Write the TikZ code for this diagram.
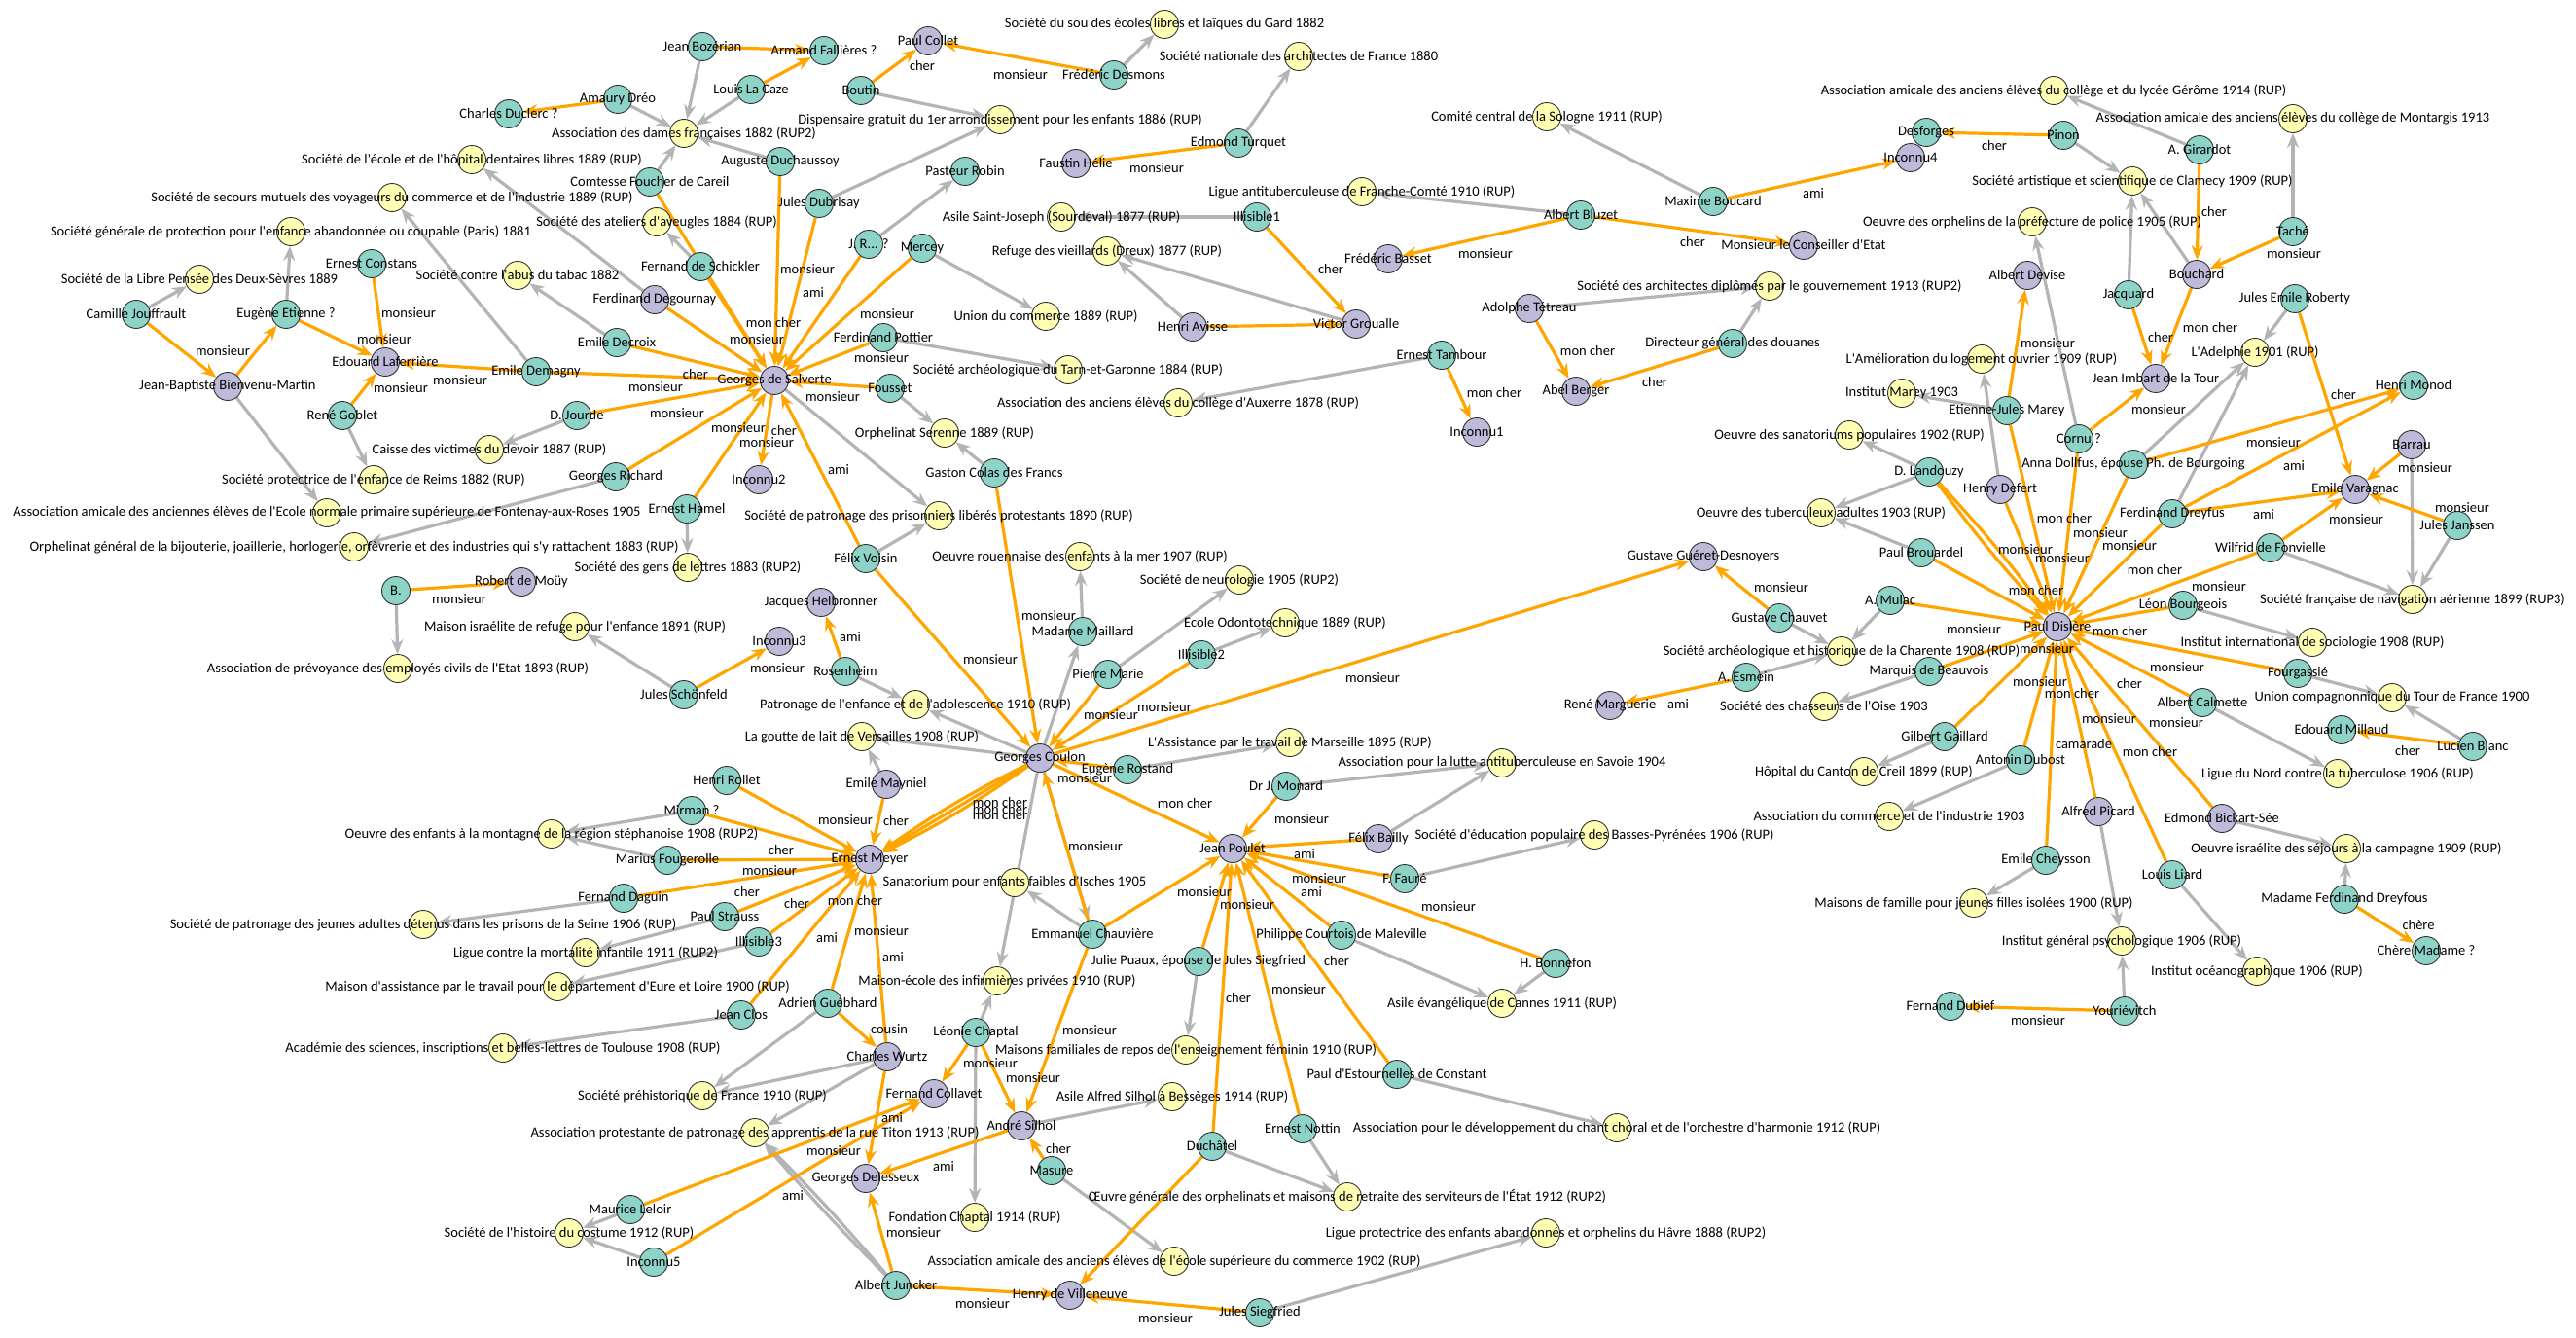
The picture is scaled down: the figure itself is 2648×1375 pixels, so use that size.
\documentclass[tikz,border=0pt]{standalone}
\usepackage{fontspec}
\newfontfamily\labfont{Carlito}
\usetikzlibrary{arrows.meta}
\pgfdeclarelayer{bg}
\pgfdeclarelayer{fg}
\pgfsetlayers{bg,main,fg}
\definecolor{cteal}{HTML}{8DD3C7}
\definecolor{cpurp}{HTML}{BEBADA}
\definecolor{cyel}{HTML}{FFFFB3}
\definecolor{corange}{HTML}{FFA500}
\definecolor{cgray}{HTML}{B4B4B4}
\tikzset{
 person/.style={circle, draw=black!80, line width=0.9pt, minimum size=29pt, inner sep=0pt},
 nteal/.style={person, fill=cteal},
 npurp/.style={person, fill=cpurp},
 nyel/.style={person, fill=cyel},
 txt/.style={font=\labfont\fontsize{14.5}{16}\selectfont, inner sep=0pt, text=black},
 elab/.style={txt},
 oe/.style={draw=corange, line width=3.2pt, -{Stealth[length=15pt,width=12pt,inset=5pt]}},
 ge/.style={draw=cgray, line width=3.2pt, -{Stealth[length=15pt,width=12pt,inset=5pt]}},
}
\newcommand\NN[5]{\node[#2] (#1) at (#3,#4) {};\begin{pgfonlayer}{fg}\node[txt] at (#1.center) {#5};\end{pgfonlayer}}
\newcommand\EO[2]{\draw[oe] (#1) -- (#2);}
\newcommand\EG[2]{\draw[ge] (#1) -- (#2);}
\newcommand\EL[3]{\node[elab] at (#1,#2) {#3};}
\begin{document}
\begin{tikzpicture}[x=1pt,y=-1pt]
\begin{pgfonlayer}{bg}
\fill[white] (0,0) rectangle (2648,1375);
\end{pgfonlayer}
\useasboundingbox (0,0) rectangle (2648,1375);
% ---------- nodes ----------
\NN{cjouf}{nteal}{140}{323}{Camille Jouffrault}
\NN{libre}{nyel}{205}{287}{Société de la Libre Pensée des Deux-Sèvres 1889}
\NN{eetienne}{nteal}{294}{323}{Eugène Etienne ?}
\NN{sgenprot}{nyel}{299}{238}{Société générale de protection pour l'enfance abandonnée ou coupable (Paris) 1881}
\NN{jbbm}{npurp}{234}{397}{Jean-Baptiste Bienvenu-Martin}
\NN{econst}{nteal}{382}{271}{Ernest Constans}
\NN{elaf}{npurp}{396}{372}{Edouard Laferrière}
\NN{rgoblet}{nteal}{352}{427}{René Goblet}
\NN{edemagny}{nteal}{551}{382}{Emile Demagny}
\NN{djourde}{nteal}{593}{427}{D. Jourde}
\NN{caisse}{nyel}{503}{462}{Caisse des victimes du devoir 1887 (RUP)}
\NN{sprotreims}{nyel}{384}{493}{Société protectrice de l'enfance de Reims 1882 (RUP)}
\NN{aamicfont}{nyel}{336}{527}{Association amicale des anciennes élèves de l'Ecole normale primaire supérieure de Fontenay-aux-Roses 1905}
\NN{orphbij}{nyel}{364}{562}{Orphelinat général de la bijouterie, joaillerie, horlogerie, orfèvrerie et des industries qui s'y rattachent 1883 (RUP)}
\NN{grichard}{nteal}{633}{490}{Georges Richard}
\NN{bnode}{nteal}{407}{607}{B.}
\NN{rmouy}{npurp}{536}{598}{Robert de Moüy}
\NN{maisonisr}{nyel}{591}{644}{Maison israélite de refuge pour l'enfance 1891 (RUP)}
\NN{aprev}{nyel}{409}{687}{Association de prévoyance des employés civils de l'Etat 1893 (RUP)}
\NN{jschon}{nteal}{703}{714}{Jules Schönfeld}
\NN{inconnu3}{npurp}{801}{659}{Inconnu3}
\NN{cduclerc}{nteal}{523}{117}{Charles Duclerc ?}
\NN{adreo}{nteal}{635}{102}{Amaury Dréo}
\NN{secoledent}{nyel}{485}{164}{Société de l'école et de l'hôpital dentaires libres 1889 (RUP)}
\NN{ssecours}{nyel}{403}{203}{Société de secours mutuels des voyageurs du commerce et de l'industrie 1889 (RUP)}
\NN{scontabus}{nyel}{532}{283}{Société contre l'abus du tabac 1882}
\NN{edecroix}{nteal}{634}{352}{Emile Decroix}
\NN{fdegournay}{npurp}{673}{308}{Ferdinand Degournay}
\NN{comtesse}{nteal}{668}{187}{Comtesse Foucher de Careil}
\NN{saveugles}{nyel}{675}{228}{Société des ateliers d'aveugles 1884 (RUP)}
\NN{fschickler}{nteal}{720}{274}{Fernand de Schickler}
\NN{adames}{nyel}{703}{137}{Association des dames françaises 1882 (RUP2)}
\NN{jbozerian}{nteal}{722}{48}{Jean Bozérian}
\NN{afallieres}{nteal}{847}{52}{Armand Fallières ?}
\NN{lcaze}{nteal}{772}{92}{Louis La Caze}
\NN{aduchaussoy}{nteal}{802}{166}{Auguste Duchaussoy}
\NN{jdubrisay}{nteal}{842}{209}{Jules Dubrisay}
\NN{pcollet}{npurp}{954}{42}{Paul Collet}
\NN{boutin}{nteal}{885}{93}{Boutin}
\NN{ssou}{nyel}{1197}{25}{Société du sou des écoles libres et laïques du Gard 1882}
\NN{fdesmons}{nteal}{1145}{77}{Frédéric Desmons}
\NN{snatarch}{nyel}{1335}{58}{Société nationale des architectes de France 1880}
\NN{dispens}{nyel}{1028}{123}{Dispensaire gratuit du 1er arrondissement pour les enfants 1886 (RUP)}
\NN{eturquet}{nteal}{1273}{147}{Edmond Turquet}
\NN{fhelie}{npurp}{1106}{168}{Faustin Hélie}
\NN{probin}{nteal}{992}{176}{Pasteur Robin}
\NN{jr}{nteal}{893}{251}{J. R... ?}
\NN{mercey}{nteal}{948}{255}{Mercey}
\NN{asilesj}{nyel}{1091}{223}{Asile Saint-Joseph (Sourdeval) 1877 (RUP)}
\NN{illis1}{nteal}{1292}{223}{Illisible1}
\NN{ligueFC}{nyel}{1400}{197}{Ligue antituberculeuse de Franche-Comté 1910 (RUP)}
\NN{refuge}{nyel}{1138}{258}{Refuge des vieillards (Dreux) 1877 (RUP)}
\NN{union}{nyel}{1075}{325}{Union du commerce 1889 (RUP)}
\NN{havisse}{npurp}{1226}{336}{Henri Avisse}
\NN{fpottier}{nteal}{908}{347}{Ferdinand Pottier}
\NN{tarn}{nyel}{1098}{380}{Société archéologique du Tarn-et-Garonne 1884 (RUP)}
\NN{salverte}{npurp}{796}{391}{Georges de Salverte}
\NN{fousset}{nteal}{915}{399}{Fousset}
\NN{auxerre}{nyel}{1211}{414}{Association des anciens élèves du collège d'Auxerre 1878 (RUP)}
\NN{serenne}{nyel}{971}{445}{Orphelinat Serenne 1889 (RUP)}
\NN{vgroualle}{npurp}{1394}{333}{Victor Groualle}
\NN{etambour}{nteal}{1482}{365}{Ernest Tambour}
\NN{inconnu1}{npurp}{1518}{444}{Inconnu1}
\NN{sologne}{nyel}{1590}{120}{Comité central de la Sologne 1911 (RUP)}
\NN{mboucard}{nteal}{1761}{207}{Maxime Boucard}
\NN{abluzet}{nteal}{1625}{221}{Albert Bluzet}
\NN{fbasset}{npurp}{1427}{266}{Frédéric Basset}
\NN{conseiller}{npurp}{1854}{252}{Monsieur le Conseiller d'Etat}
\NN{sarchdipl}{nyel}{1819}{294}{Société des architectes diplômés par le gouvernement 1913 (RUP2)}
\NN{atetreau}{npurp}{1572}{317}{Adolphe Tétreau}
\NN{dirdouanes}{nteal}{1781}{353}{Directeur général des douanes}
\NN{aberger}{npurp}{1620}{402}{Abel Berger}
\NN{inconnu4}{npurp}{1964}{162}{Inconnu4}
\NN{desforges}{nteal}{1980}{136}{Desforges}
\NN{agerome}{nyel}{2111}{93}{Association amicale des anciens élèves du collège et du lycée Gérôme 1914 (RUP)}
\NN{pinon}{nteal}{2121}{139}{Pinon}
\NN{montargis}{nyel}{2357}{122}{Association amicale des anciens élèves du collège de Montargis 1913}
\NN{agirardot}{nteal}{2261}{154}{A. Girardot}
\NN{clamecy}{nyel}{2192}{186}{Société artistique et scientifique de Clamecy 1909 (RUP)}
\NN{orphpol}{nyel}{2089}{228}{Oeuvre des orphelins de la préfecture de police 1905 (RUP)}
\NN{tache}{nteal}{2357}{238}{Taché}
\NN{bouchard}{npurp}{2258}{282}{Bouchard}
\NN{adevise}{npurp}{2084}{283}{Albert Devise}
\NN{jacquard}{nteal}{2188}{303}{Jacquard}
\NN{jroberty}{nteal}{2359}{307}{Jules Emile Roberty}
\NN{adelphie}{nyel}{2318}{362}{L'Adelphie 1901 (RUP)}
\NN{amelior}{nyel}{2037}{369}{L'Amélioration du logement ouvrier 1909 (RUP)}
\NN{jimbart}{npurp}{2216}{389}{Jean Imbart de la Tour}
\NN{hmonod}{nteal}{2481}{396}{Henri Monod}
\NN{imarey}{nyel}{1955}{404}{Institut Marey 1903}
\NN{ejmarey}{nteal}{2063}{422}{Etienne-Jules Marey}
\NN{sanatpop}{nyel}{1901}{447}{Oeuvre des sanatoriums populaires 1902 (RUP)}
\NN{cornu}{nteal}{2137}{451}{Cornu ?}
\NN{barrau}{npurp}{2479}{457}{Barrau}
\NN{adollfus}{nteal}{2193}{477}{Anna Dollfus, épouse Ph. de Bourgoing}
\NN{landouzy}{nteal}{1983}{485}{D. Landouzy}
\NN{hdefert}{npurp}{2056}{503}{Henry Defert}
\NN{varagnac}{npurp}{2421}{503}{Emile Varagnac}
\NN{fdreyfus}{nteal}{2233}{528}{Ferdinand Dreyfus}
\NN{tubadult}{nyel}{1872}{527}{Oeuvre des tuberculeux adultes 1903 (RUP)}
\NN{jjanssen}{nteal}{2526}{540}{Jules Janssen}
\NN{wfonvielle}{nteal}{2334}{563}{Wilfrid de Fonvielle}
\NN{brouardel}{nteal}{1975}{568}{Paul Brouardel}
\NN{guerets}{npurp}{1751}{572}{Gustave Guéret-Desnoyers}
\NN{sfna}{nyel}{2480}{616}{Société française de navigation aérienne 1899 (RUP3)}
\NN{mulac}{nteal}{1943}{617}{A. Mulac}
\NN{lbourgeois}{nteal}{2244}{622}{Léon Bourgeois}
\NN{chauvet}{nteal}{1829}{635}{Gustave Chauvet}
\NN{dislere}{npurp}{2115}{644}{Paul Dislère}
\NN{iisoc}{nyel}{2377}{660}{Institut international de sociologie 1908 (RUP)}
\NN{charente}{nyel}{1893}{669}{Société archéologique et historique de la Charente 1908 (RUP)}
\NN{beauvois}{nteal}{1983}{690}{Marquis de Beauvois}
\NN{fourgassie}{nteal}{2362}{692}{Fourgassié}
\NN{esmein}{nteal}{1795}{696}{A. Esmein}
\NN{tourfr}{nyel}{2459}{717}{Union compagnonnique du Tour de France 1900}
\NN{calmette}{nteal}{2264}{722}{Albert Calmette}
\NN{marguerie}{npurp}{1655}{725}{René Marguerie}
\NN{chasseurs}{nyel}{1875}{726}{Société des chasseurs de l'Oise 1903}
\NN{millaud}{nteal}{2407}{750}{Edouard Millaud}
\NN{gaillard}{nteal}{1999}{757}{Gilbert Gaillard}
\NN{lblanc}{nteal}{2542}{767}{Lucien Blanc}
\NN{dubost}{nteal}{2077}{781}{Antonin Dubost}
\NN{creil}{nyel}{1916}{793}{Hôpital du Canton de Creil 1899 (RUP)}
\NN{liguenord}{nyel}{2403}{795}{Ligue du Nord contre la tuberculose 1906 (RUP)}
\NN{picard}{npurp}{2157}{834}{Alfred Picard}
\NN{asscomm}{nyel}{1942}{839}{Association du commerce et de l'industrie 1903}
\NN{bickart}{npurp}{2284}{841}{Edmond Bickart-Sée}
\NN{oisr}{nyel}{2412}{872}{Oeuvre israélite des séjours à la campagne 1909 (RUP)}
\NN{cheysson}{nteal}{2103}{884}{Emile Cheysson}
\NN{liard}{nteal}{2233}{899}{Louis Liard}
\NN{mfdreyfous}{nteal}{2410}{924}{Madame Ferdinand Dreyfous}
\NN{maisfam}{nyel}{2029}{928}{Maisons de famille pour jeunes filles isolées 1900 (RUP)}
\NN{igpsy}{nyel}{2181}{967}{Institut général psychologique 1906 (RUP)}
\NN{cheremad}{nteal}{2494}{977}{Chère Madame ?}
\NN{ioceano}{nyel}{2320}{998}{Institut océanographique 1906 (RUP)}
\NN{fdubief}{nteal}{2005}{1034}{Fernand Dubief}
\NN{yourievitch}{nteal}{2184}{1039}{Youriévitch}
\NN{inconnu2}{npurp}{780}{493}{Inconnu2}
\NN{gcolas}{nteal}{1022}{486}{Gaston Colas des Francs}
\NN{ehamel}{nteal}{706}{523}{Ernest Hamel}
\NN{sprison}{nyel}{965}{530}{Société de patronage des prisonniers libérés protestants 1890 (RUP)}
\NN{fvoisin}{nteal}{890}{574}{Félix Voisin}
\NN{orouen}{nyel}{1110}{572}{Oeuvre rouennaise des enfants à la mer 1907 (RUP)}
\NN{gensdl}{nyel}{707}{583}{Société des gens de lettres 1883 (RUP2)}
\NN{sneuro}{nyel}{1274}{596}{Société de neurologie 1905 (RUP2)}
\NN{jhelbronner}{npurp}{844}{619}{Jacques Helbronner}
\NN{odonto}{nyel}{1321}{640}{Ecole Odontotechnique 1889 (RUP)}
\NN{mmaillard}{nteal}{1113}{649}{Madame Maillard}
\NN{illis2}{nteal}{1235}{673}{Illisible2}
\NN{rosenheim}{nteal}{869}{690}{Rosenheim}
\NN{pmarie}{nteal}{1139}{693}{Pierre Marie}
\NN{patronage}{nyel}{941}{724}{Patronage de l'enfance et de l'adolescence 1910 (RUP)}
\NN{goutte}{nyel}{886}{757}{La goutte de lait de Versailles 1908 (RUP)}
\NN{assistance}{nyel}{1326}{763}{L'Assistance par le travail de Marseille 1895 (RUP)}
\NN{coulon}{npurp}{1069}{779}{Georges Coulon}
\NN{rostand}{nteal}{1159}{791}{Eugène Rostand}
\NN{savoie}{nyel}{1544}{784}{Association pour la lutte antituberculeuse en Savoie 1904}
\NN{hrollet}{nteal}{747}{802}{Henri Rollet}
\NN{mayniel}{npurp}{911}{806}{Emile Mayniel}
\NN{monard}{nteal}{1322}{808}{Dr J. Monard}
\NN{mirman}{nteal}{711}{833}{Mirman ?}
\NN{enfmont}{nyel}{567}{857}{Oeuvre des enfants à la montagne de la région stéphanoise 1908 (RUP2)}
\NN{fbailly}{npurp}{1417}{862}{Félix Bailly}
\NN{educpop}{nyel}{1639}{858}{Société d'éducation populaire des Basses-Pyrénées 1906 (RUP)}
\NN{poulet}{npurp}{1267}{872}{Jean Poulet}
\NN{emeyer}{npurp}{894}{883}{Ernest Meyer}
\NN{fougerolle}{nteal}{686}{884}{Marius Fougerolle}
\NN{ffaure}{nteal}{1444}{903}{F. Fauré}
\NN{sanatisches}{nyel}{1043}{907}{Sanatorium pour enfants faibles d'Isches 1905}
\NN{daguin}{nteal}{641}{923}{Fernand Daguin}
\NN{jeunesad}{nyel}{435}{950}{Société de patronage des jeunes adultes détenus dans les prisons de la Seine 1906 (RUP)}
\NN{pstrauss}{nteal}{745}{942}{Paul Strauss}
\NN{chauviere}{nteal}{1123}{960}{Emmanuel Chauvière}
\NN{courtois}{nteal}{1379}{961}{Philippe Courtois de Maleville}
\NN{lmortal}{nyel}{602}{979}{Ligue contre la mortalité infantile 1911 (RUP2)}
\NN{illis3}{nteal}{780}{968}{Illisible3}
\NN{puaux}{nteal}{1232}{988}{Julie Puaux, épouse de Jules Siegfried}
\NN{bonnefon}{nteal}{1599}{990}{H. Bonnefon}
\NN{maisecole}{nyel}{1025}{1008}{Maison-école des infirmières privées 1910 (RUP)}
\NN{maisassist}{nyel}{573}{1014}{Maison d'assistance par le travail pour le département d'Eure et Loire 1900 (RUP)}
\NN{asileevang}{nyel}{1544}{1031}{Asile évangélique de Cannes 1911 (RUP)}
\NN{guebhard}{nteal}{851}{1031}{Adrien Guébhard}
\NN{jclos}{nteal}{762}{1043}{Jean Clos}
\NN{chaptal}{nteal}{1003}{1061}{Léonie Chaptal}
\NN{academie}{nyel}{517}{1077}{Académie des sciences, inscriptions et belles-lettres de Toulouse 1908 (RUP)}
\NN{maisfamrep}{nyel}{1219}{1079}{Maisons familiales de repos de l'enseignement féminin 1910 (RUP)}
\NN{wurtz}{npurp}{912}{1086}{Charles Wurtz}
\NN{estournelles}{nteal}{1436}{1104}{Paul d'Estournelles de Constant}
\NN{collavet}{npurp}{960}{1124}{Fernand Collavet}
\NN{prehist}{nyel}{722}{1126}{Société préhistorique de France 1910 (RUP)}
\NN{besseges}{nyel}{1205}{1127}{Asile Alfred Silhol à Bessèges 1914 (RUP)}
\NN{silhol}{npurp}{1050}{1157}{André Silhol}
\NN{chantchoral}{nyel}{1662}{1159}{Association pour le développement du chant choral et de l'orchestre d'harmonie 1912 (RUP)}
\NN{nottin}{nteal}{1339}{1160}{Ernest Nottin}
\NN{apprentis}{nyel}{776}{1164}{Association protestante de patronage des apprentis de la rue Titon 1913 (RUP)}
\NN{duchatel}{nteal}{1246}{1178}{Duchâtel}
\NN{masure}{nteal}{1081}{1203}{Masure}
\NN{delesseux}{npurp}{890}{1211}{Georges Delesseux}
\NN{oeuvregen}{nyel}{1385}{1230}{Œuvre générale des orphelinats et maisons de retraite des serviteurs de l'État 1912 (RUP2)}
\NN{leloir}{nteal}{648}{1243}{Maurice Leloir}
\NN{fchaptal}{nyel}{1002}{1251}{Fondation Chaptal 1914 (RUP)}
\NN{costume}{nyel}{585}{1267}{Société de l'histoire du costume 1912 (RUP)}
\NN{liguehavre}{nyel}{1589}{1267}{Ligue protectrice des enfants abandonnés et orphelins du Hâvre 1888 (RUP2)}
\NN{aaesc}{nyel}{1207}{1296}{Association amicale des anciens élèves de l'école supérieure du commerce 1902 (RUP)}
\NN{inconnu5}{nteal}{672}{1297}{Inconnu5}
\NN{juncker}{nteal}{921}{1321}{Albert Juncker}
\NN{villeneuve}{npurp}{1100}{1331}{Henry de Villeneuve}
\NN{jsiegfried}{nteal}{1295}{1349}{Jules Siegfried}
% ---------- edges ----------
\begin{pgfonlayer}{bg}
% gray
\EG{cjouf}{libre}\EG{eetienne}{sgenprot}\EG{edecroix}{scontabus}\EG{edemagny}{ssecours}
\EG{fdegournay}{secoledent}\EG{djourde}{caisse}\EG{rgoblet}{sprotreims}\EG{jbbm}{aamicfont}
\EG{grichard}{orphbij}\EG{bnode}{aprev}\EG{jschon}{maisonisr}\EG{adreo}{adames}
\EG{jbozerian}{adames}\EG{lcaze}{adames}\EG{comtesse}{adames}\EG{aduchaussoy}{adames}
\EG{fschickler}{saveugles}\EG{fdesmons}{ssou}\EG{boutin}{dispens}\EG{jdubrisay}{dispens}
\EG{eturquet}{snatarch}\EG{jr}{probin}\EG{illis1}{asilesj}\EG{mercey}{union}
\EG{havisse}{refuge}\EG{vgroualle}{refuge}\EG{fpottier}{tarn}\EG{fousset}{serenne}
\EG{etambour}{auxerre}\EG{salverte}{sprison}\EG{fvoisin}{sprison}\EG{gcolas}{serenne}
\EG{ehamel}{gensdl}\EG{mboucard}{sologne}\EG{abluzet}{ligueFC}\EG{atetreau}{sarchdipl}
\EG{dirdouanes}{sarchdipl}\EG{agirardot}{agerome}\EG{pinon}{clamecy}\EG{tache}{montargis}
\EG{bouchard}{clamecy}\EG{jacquard}{clamecy}\EG{cornu}{orphpol}\EG{jroberty}{adelphie}
\EG{adollfus}{adelphie}\EG{fdreyfus}{adelphie}\EG{hdefert}{amelior}\EG{ejmarey}{imarey}
\EG{landouzy}{sanatpop}\EG{landouzy}{tubadult}\EG{brouardel}{tubadult}\EG{barrau}{sfna}
\EG{jjanssen}{sfna}\EG{wfonvielle}{sfna}\EG{lbourgeois}{iisoc}\EG{fourgassie}{tourfr}
\EG{lblanc}{tourfr}\EG{calmette}{liguenord}\EG{bickart}{oisr}\EG{mfdreyfous}{oisr}
\EG{cheysson}{maisfam}\EG{picard}{igpsy}\EG{yourievitch}{igpsy}\EG{liard}{ioceano}
\EG{chauvet}{charente}\EG{mulac}{charente}\EG{esmein}{charente}\EG{beauvois}{chasseurs}
\EG{gaillard}{creil}\EG{dubost}{asscomm}\EG{monard}{savoie}\EG{fbailly}{savoie}
\EG{ffaure}{educpop}\EG{courtois}{asileevang}\EG{bonnefon}{asileevang}\EG{estournelles}{chantchoral}
\EG{nottin}{oeuvregen}\EG{duchatel}{oeuvregen}\EG{jsiegfried}{liguehavre}\EG{masure}{aaesc}
\EG{mmaillard}{orouen}\EG{coulon}{mmaillard}\EG{pmarie}{sneuro}\EG{illis2}{odonto}
\EG{rosenheim}{patronage}\EG{coulon}{patronage}\EG{coulon}{goutte}\EG{mayniel}{goutte}
\EG{rostand}{assistance}\EG{mirman}{enfmont}\EG{fougerolle}{enfmont}\EG{daguin}{jeunesad}
\EG{pstrauss}{lmortal}\EG{illis3}{maisassist}\EG{jclos}{academie}\EG{guebhard}{prehist}
\EG{wurtz}{prehist}\EG{wurtz}{apprentis}\EG{leloir}{costume}\EG{inconnu5}{costume}
\EG{chaptal}{maisecole}\EG{coulon}{maisecole}\EG{chauviere}{sanatisches}\EG{coulon}{chauviere}
\EG{chaptal}{fchaptal}\EG{puaux}{maisfamrep}\EG{silhol}{besseges}
\draw[ge] (juncker) to[bend left=2] (apprentis);
\draw[ge] (juncker) to[bend right=2] (apprentis);
% orange
\EO{cjouf}{jbbm}\EO{jbbm}{eetienne}\EO{eetienne}{elaf}\EO{econst}{elaf}\EO{rgoblet}{elaf}
\EO{edemagny}{elaf}\EO{edemagny}{salverte}\EO{adreo}{cduclerc}\EO{jbozerian}{afallieres}
\EO{lcaze}{afallieres}\EO{boutin}{pcollet}\EO{fdesmons}{pcollet}\EO{eturquet}{fhelie}
\EO{illis1}{vgroualle}\EO{havisse}{vgroualle}\EO{comtesse}{salverte}\EO{fschickler}{salverte}
\EO{fdegournay}{salverte}\EO{aduchaussoy}{salverte}\EO{jdubrisay}{salverte}\EO{jr}{salverte}
\EO{mercey}{salverte}\EO{fpottier}{salverte}\EO{fousset}{salverte}\EO{edecroix}{salverte}
\EO{djourde}{salverte}\EO{grichard}{salverte}\EO{ehamel}{salverte}\EO{fvoisin}{salverte}
\EO{salverte}{inconnu2}\EO{bnode}{rmouy}\EO{jschon}{inconnu3}\EO{rosenheim}{jhelbronner}
\EO{mboucard}{inconnu4}\EO{abluzet}{fbasset}\EO{abluzet}{conseiller}\EO{atetreau}{aberger}
\EO{dirdouanes}{aberger}\EO{etambour}{inconnu1}\EO{pinon}{desforges}\EO{agirardot}{bouchard}
\EO{tache}{bouchard}\EO{jacquard}{jimbart}\EO{bouchard}{jimbart}\EO{cornu}{jimbart}
\EO{ejmarey}{adevise}\EO{jroberty}{varagnac}\EO{barrau}{varagnac}\EO{jjanssen}{varagnac}
\EO{wfonvielle}{varagnac}\EO{fdreyfus}{varagnac}\EO{adollfus}{hmonod}\EO{fdreyfus}{hmonod}
\EO{ejmarey}{dislere}\EO{hdefert}{dislere}\EO{cornu}{dislere}\EO{adollfus}{dislere}
\EO{fdreyfus}{dislere}\EO{wfonvielle}{dislere}\EO{lbourgeois}{dislere}\EO{fourgassie}{dislere}
\EO{calmette}{dislere}\EO{bickart}{dislere}\EO{liard}{dislere}\EO{picard}{dislere}
\EO{cheysson}{dislere}\EO{dubost}{dislere}\EO{gaillard}{dislere}\EO{beauvois}{dislere}
\EO{mulac}{dislere}\EO{brouardel}{dislere}
\draw[oe] (landouzy) to[bend left=3] (dislere);
\draw[oe] (landouzy) to[bend right=3] (dislere);
\EO{chauvet}{guerets}\EO{coulon}{guerets}\EO{esmein}{marguerie}\EO{lblanc}{millaud}
\EO{mfdreyfous}{cheremad}\EO{yourievitch}{fdubief}\EO{gcolas}{coulon}\EO{fvoisin}{coulon}
\EO{illis2}{coulon}\EO{pmarie}{coulon}\EO{rostand}{coulon}\EO{chauviere}{coulon}
\EO{coulon}{emeyer}
\draw[oe] (coulon) to[bend left=4] (emeyer);
\draw[oe] (coulon) to[bend right=4] (emeyer);
\EO{coulon}{poulet}\EO{hrollet}{emeyer}\EO{mayniel}{emeyer}\EO{mirman}{emeyer}
\EO{fougerolle}{emeyer}\EO{daguin}{emeyer}\EO{pstrauss}{emeyer}\EO{illis3}{emeyer}
\EO{jclos}{emeyer}\EO{guebhard}{emeyer}\EO{wurtz}{emeyer}\EO{guebhard}{wurtz}
\EO{wurtz}{delesseux}\EO{monard}{poulet}\EO{fbailly}{poulet}\EO{ffaure}{poulet}
\EO{courtois}{poulet}\EO{bonnefon}{poulet}\EO{estournelles}{poulet}\EO{nottin}{poulet}
\EO{puaux}{poulet}\EO{chauviere}{poulet}\EO{duchatel}{poulet}\EO{chauviere}{silhol}
\EO{chaptal}{collavet}\EO{chaptal}{silhol}\EO{silhol}{delesseux}\EO{masure}{silhol}
\EO{juncker}{delesseux}\EO{juncker}{villeneuve}\EO{jsiegfried}{villeneuve}\EO{duchatel}{villeneuve}
\EO{leloir}{collavet}\EO{inconnu5}{collavet}
\EL{2104}{667}{monsieur}
\end{pgfonlayer}
% ---------- edge labels ----------
\begin{pgfonlayer}{fg}
\EL{229}{361}{monsieur}\EL{420}{322}{monsieur}\EL{395}{349}{monsieur}\EL{412}{399}{monsieur}
\EL{473}{391}{monsieur}\EL{472}{616}{monsieur}
\EL{715}{385}{cher}\EL{674}{398}{monsieur}\EL{696}{425}{monsieur}\EL{759}{440}{monsieur}
\EL{806}{443}{cher}\EL{788}{455}{monsieur}\EL{795}{332}{mon cher}\EL{778}{349}{monsieur}
\EL{830}{277}{monsieur}\EL{836}{301}{ami}\EL{912}{323}{monsieur}\EL{906}{368}{monsieur}
\EL{856}{408}{monsieur}\EL{862}{483}{ami}\EL{948}{68}{cher}\EL{1049}{77}{monsieur}
\EL{1189}{173}{monsieur}\EL{1368}{277}{cher}
\EL{1864}{199}{ami}\EL{1527}{261}{monsieur}\EL{1740}{249}{cher}\EL{1632}{361}{mon cher}
\EL{1701}{393}{cher}\EL{1536}{404}{mon cher}\EL{2050}{150}{cher}\EL{2276}{218}{cher}
\EL{2358}{261}{monsieur}\EL{2221}{347}{cher}\EL{2272}{337}{mon cher}\EL{2105}{353}{monsieur}
\EL{2219}{421}{monsieur}\EL{2409}{406}{cher}\EL{2337}{455}{monsieur}\EL{2358}{479}{ami}
\EL{2493}{481}{monsieur}\EL{2531}{522}{monsieur}\EL{2422}{534}{monsieur}\EL{2327}{529}{ami}
\EL{2122}{533}{mon cher}\EL{2159}{548}{monsieur}\EL{2189}{561}{monsieur}\EL{2082}{565}{monsieur}
\EL{2120}{574}{monsieur}\EL{2215}{586}{mon cher}\EL{2093}{607}{mon cher}\EL{2281}{603}{monsieur}
\EL{2029}{647}{monsieur}\EL{2179}{649}{mon cher}\EL{2238}{686}{monsieur}\EL{2189}{703}{cher}
\EL{2097}{701}{monsieur}\EL{2130}{713}{mon cher}\EL{2168}{739}{monsieur}\EL{2237}{743}{monsieur}
\EL{2142}{765}{camarade}\EL{2210}{773}{mon cher}\EL{2475}{772}{cher}\EL{2486}{951}{chère}
\EL{2095}{1049}{monsieur}\EL{1831}{604}{monsieur}\EL{1725}{724}{ami}\EL{1411}{697}{monsieur}
\EL{799}{687}{monsieur}\EL{874}{655}{ami}\EL{1018}{678}{monsieur}\EL{1078}{633}{monsieur}
\EL{1197}{727}{monsieur}\EL{1142}{735}{monsieur}\EL{1115}{800}{monsieur}
\EL{1028}{825}{mon cher}\EL{1028}{832}{mon cher}\EL{1028}{838}{mon cher}
\EL{1218}{826}{mon cher}\EL{869}{843}{monsieur}\EL{921}{844}{cher}\EL{803}{874}{cher}
\EL{791}{895}{monsieur}\EL{768}{917}{cher}\EL{819}{929}{cher}\EL{879}{926}{mon cher}
\EL{850}{964}{ami}\EL{906}{957}{monsieur}\EL{918}{984}{ami}\EL{1126}{870}{monsieur}
\EL{1238}{917}{monsieur}\EL{1282}{930}{monsieur}\EL{1273}{1026}{cher}\EL{1335}{1017}{monsieur}
\EL{1374}{988}{cher}\EL{1356}{903}{monsieur}\EL{1348}{917}{ami}\EL{1341}{878}{ami}
\EL{1489}{932}{monsieur}\EL{1338}{842}{monsieur}\EL{914}{1058}{cousin}\EL{1120}{1059}{monsieur}
\EL{1018}{1093}{monsieur}\EL{1062}{1108}{monsieur}\EL{917}{1149}{ami}\EL{857}{1183}{monsieur}
\EL{970}{1199}{ami}\EL{1088}{1181}{cher}\EL{815}{1229}{ami}\EL{939}{1267}{monsieur}
\EL{1010}{1340}{monsieur}\EL{1198}{1355}{monsieur}
\end{pgfonlayer}
\end{tikzpicture}
\end{document}
